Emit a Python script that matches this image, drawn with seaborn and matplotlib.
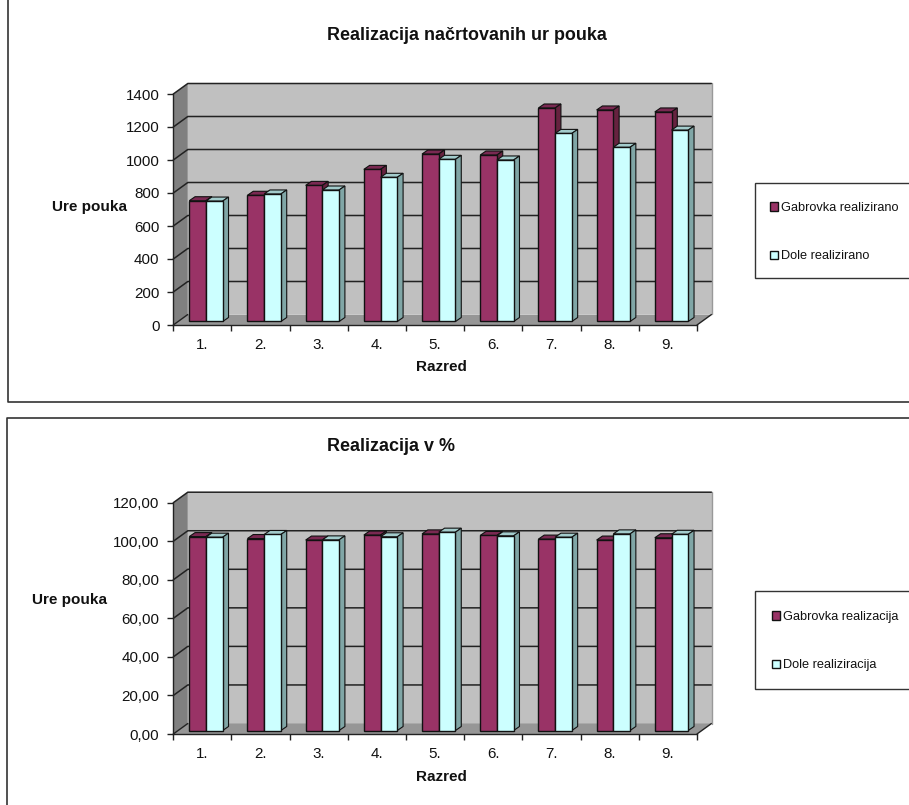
import numpy as np
import pandas as pd
import matplotlib
matplotlib.use("Agg")
import matplotlib.pyplot as plt
from matplotlib.patches import Polygon, Rectangle
import seaborn as sns

categories = ["1.", "2.", "3.", "4.", "5.", "6.", "7.", "8.", "9."]
gabrovka_hours = [732, 765, 825, 922, 1015, 1009, 1294, 1282, 1270]
dole_hours = [730, 773, 797, 874, 983, 979, 1140, 1056, 1160]
gabrovka_pct = [100.6, 99.6, 98.8, 101.4, 102.0, 101.2, 99.3, 98.8, 100.0]
dole_pct = [100.3, 101.7, 98.9, 100.5, 102.9, 101.0, 100.3, 102.0, 101.8]

W, H = 909, 805
sns.set_style("ticks")
plt.rcParams["font.family"] = ["Liberation Sans", "DejaVu Sans"]
fig = plt.figure(figsize=(W / 100, H / 100), dpi=100)

COLORS = ["#993366", "#CCFFFF"]
TOPS = ["#7A2952", "#A3CCCC"]
SIDES = ["#66223F", "#80A6A6"]
DARK = "#333333"
INK = "#111111"


def fx(px):
    return px / W


def fy(py):
    return 1 - py / H


def panel(v1, v2, n1, n2, yticks, yfmt, ymax, y0, ytop, title, title_xy,
          ylab_xy, xlab_xy, leg_box, leg_xy, rect):
    ax = fig.add_axes([fx(173.3), fy(y0), fx(697) - fx(173.3), (y0 - ytop) / H])
    ax.patch.set_alpha(0)
    df = pd.DataFrame({
        "Razred": categories * 2,
        "v": list(v1) + list(v2),
        "s": [n1] * len(v1) + [n2] * len(v2),
    })
    sns.barplot(data=df, x="Razred", y="v", hue="s", palette=COLORS, width=0.575,
                gap=0, edgecolor="#111111", linewidth=1, saturation=1, ax=ax,
                errorbar=None, legend=False, zorder=5)
    ax.set_xlim(-0.5, 8.5)
    ax.set_ylim(0, ymax)
    pxx = (697 - 173.3) / 9
    pxy = (y0 - ytop) / ymax
    wx, wy = 14.5 / pxx, 10.5 / pxy       # depth of the walls, data units
    bx, by = 3.6 / pxx, 3.5 / pxy         # bar position within the depth
    dx, dy = 5.8 / pxx, 4.0 / pxy         # bar depth

    # walls and floor
    ax.add_patch(Rectangle((-0.5 + wx, wy), 9, ymax, fc="#C0C0C0", ec="none",
                           zorder=0, clip_on=False))
    ax.add_patch(Polygon([(-0.5, 0), (-0.5 + wx, wy), (-0.5 + wx, ymax + wy), (-0.5, ymax)],
                         fc="#808080", ec="none", zorder=0, clip_on=False))
    ax.add_patch(Polygon([(-0.5, 0), (8.5, 0), (8.5 + wx, wy), (-0.5 + wx, wy)],
                         fc="#969696", ec="none", zorder=0.5, clip_on=False))
    for t in yticks[1:]:
        ax.plot([-0.5, -0.5 + wx, 8.5 + wx], [t, t + wy, t + wy], color="#222222",
                lw=1.1, zorder=1, clip_on=False)
    ax.plot([-0.5, -0.5 + wx], [0, wy], color="#222222", lw=1, zorder=1, clip_on=False)
    ax.plot([8.5, 8.5 + wx], [0, wy], color="#222222", lw=1, zorder=1, clip_on=False)
    ax.plot([8.5 + wx, 8.5 + wx], [wy, ymax + wy], color="#999999", lw=1, zorder=1, clip_on=False)

    # depth faces of the bars, built from the bars that seaborn drew
    for k, cont in enumerate(ax.containers):
        for bar in cont:
            x0, w, h = bar.get_x(), bar.get_width(), bar.get_height()
            bar.set_x(x0 + bx)
            bar.set_y(by)
            bar.set_clip_on(False)
            bar.set_zorder(5 + 2 * k + 0.2)
            x0 += bx
            top = h + by
            ax.add_patch(Polygon([(x0, top), (x0 + w, top), (x0 + w + dx, top + dy), (x0 + dx, top + dy)],
                                 fc=TOPS[k], ec="#111111", lw=0.8, zorder=5 + 2 * k, clip_on=False))
            ax.add_patch(Polygon([(x0 + w, top), (x0 + w + dx, top + dy), (x0 + w + dx, by + dy), (x0 + w, by)],
                                 fc=SIDES[k], ec="#111111", lw=0.8, zorder=5 + 2 * k, clip_on=False))

    # axes
    for s in ["top", "right"]:
        ax.spines[s].set_visible(False)
    for s in ["left", "bottom"]:
        ax.spines[s].set_color("#222222")
        ax.spines[s].set_linewidth(1)
        ax.spines[s].set_zorder(2)
    ax.set_xticks(range(9))
    ax.set_xticklabels(categories)
    ax.set_xticks(np.arange(-0.5, 9, 1), minor=True)
    ax.tick_params(axis="x", which="major", length=0, pad=9, labelsize=10.9, colors=INK)
    ax.tick_params(axis="x", which="minor", length=4, width=1, color="#222222")
    ax.set_yticks(yticks)
    ax.set_yticklabels([yfmt.format(t).replace(".", ",") for t in yticks])
    ax.tick_params(axis="y", length=4, width=1, pad=6, labelsize=10.9, color="#222222", labelcolor=INK)
    ax.set_xlabel("")
    ax.set_ylabel("")

    # texts
    fig.text(fx(title_xy[0]), fy(title_xy[1]), title, ha="center", va="center",
             fontsize=12.9, fontweight="bold", color=INK)
    fig.text(fx(ylab_xy[0]), fy(ylab_xy[1]), "Ure pouka", ha="center", va="center",
             fontsize=11, fontweight="bold", color=INK)
    fig.text(fx(xlab_xy[0]), fy(xlab_xy[1]), "Razred", ha="center", va="center",
             fontsize=11, fontweight="bold", color=INK)

    # legend
    handles = [ax.containers[0][0], ax.containers[1][0]]
    x_l, y_t, y_b = leg_box
    fig.add_artist(Rectangle((fx(x_l), fy(y_b)), fx(W + 10 - x_l), (y_b - y_t) / H,
                             transform=fig.transFigure, fc="white", ec=DARK, lw=1, zorder=-1))
    leg = ax.legend(handles, [n1, n2], loc="upper left",
                    bbox_to_anchor=(fx(leg_xy[0]), fy(leg_xy[1])), bbox_transform=fig.transFigure,
                    fontsize=9.2, frameon=False, handlelength=0.6, handleheight=0.6,
                    handletextpad=0.25, labelspacing=2.85, borderpad=0,
                    borderaxespad=0, labelcolor=INK)
    leg.set_zorder(20)

    # chart frame
    x0, yt, yb = rect
    xs = [fx(909 + 5), fx(x0), fx(x0), fx(909 + 5)]
    ys = [fy(yt), fy(yt), fy(yb), fy(yb)]
    fig.add_artist(plt.Line2D(xs, ys, color=DARK, lw=1.2))
    return ax


panel(gabrovka_hours, dole_hours, "Gabrovka realizirano", "Dole realizirano",
      [0, 200, 400, 600, 800, 1000, 1200, 1400], "{:d}", 1400, 325, 94,
      "Realizacija načrtovanih ur pouka", (467, 36), (90, 207), (441, 367),
      (754.5, 182.7, 278.3), (770, 202), (8, -2, 402.5))
panel(gabrovka_pct, dole_pct, "Gabrovka realizacija", "Dole realiziracija",
      [0, 20, 40, 60, 80, 100, 120], "{:.2f}", 120, 734, 502.7,
      "Realizacija v %", (391, 446), (69, 600), (441, 777),
      (755.3, 591.3, 688.7), (772, 611), (7.5, 418.5, 810))

fig.savefig("out.png", dpi=100)
